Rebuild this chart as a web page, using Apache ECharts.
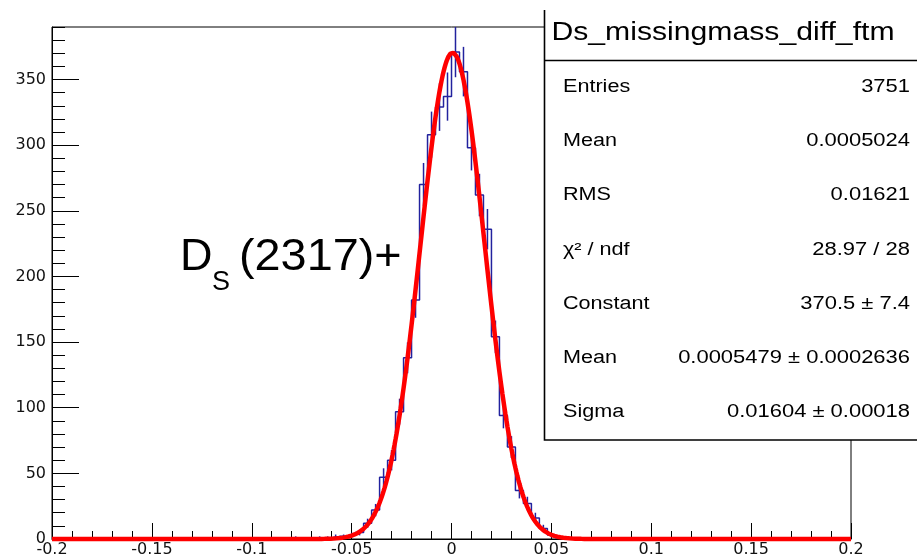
<!DOCTYPE html>
<html>
<head>
<meta charset="utf-8">
<script src="https://cdn.jsdelivr.net/npm/echarts@6/dist/echarts.min.js"></script>
<style>
  html, body { margin: 0; padding: 0; background: #ffffff; }
  #chart { width: 917px; height: 560px; }
</style>
</head>
<body>
<div id="chart"></div>
<script>
// Histogram of Ds_missingmass_diff_ftm: 100 bins over [-0.2, 0.2].
// Only the filled stretch of bins is listed; every other bin is empty.
const xRange = [-0.2, 0.2];
const binWidth = 0.004;
const firstBinLow = -0.080;
const binCounts = [
  1, 0, 0, 1, 1, 2, 2,
  3, 5, 12, 22, 47, 60, 97, 138, 182, 270, 308, 329, 337,
  371, 356, 298, 262, 236, 154, 94, 70, 37, 27, 16, 8, 3, 1, 1
];

// Gaussian fit parameters (as printed in the stats box)
const fitConstant = 370.5;
const fitMean = 0.0005479;
const fitSigma = 0.01604;

// Axis ticks
const xTickValues = [-0.2, -0.15, -0.1, -0.05, 0, 0.05, 0.1, 0.15, 0.2];
const yTickValues = [0, 50, 100, 150, 200, 250, 300, 350];
const yMax = 390;

// Stats box
const statsTitle = 'Ds_missingmass_diff_ftm';
const statsNames = ['Entries', 'Mean', 'RMS', 'χ² / ndf', 'Constant', 'Mean', 'Sigma'];
const statsValues = ['3751', '0.0005024', '0.01621', '28.97 / 28', '370.5 ± 7.4',
                     '0.0005479 ± 0.0002636', '0.01604 ± 0.00018'];

const histColor = '#22229e';
const fontFamily = '"Liberation Sans", Arial, sans-serif';
const axisFont = '"DejaVu Sans", "Liberation Sans", sans-serif';

// ---- build series data ----
const nBins = Math.round((xRange[1] - xRange[0]) / binWidth);
const firstIdx = Math.round((firstBinLow - xRange[0]) / binWidth);
const contents = new Array(nBins).fill(0);
binCounts.forEach((c, i) => { contents[firstIdx + i] = c; });

// step outline: one point per bin low edge, plus the closing edge
const outline = [];
for (let i = 0; i < nBins; i++) outline.push([xRange[0] + i * binWidth, contents[i]]);
outline.push([xRange[1], contents[nBins - 1]]);

// sqrt(N) error bars at bin centres
const errorBars = [];
for (let i = 0; i < nBins; i++) {
  const n = contents[i];
  if (n > 0) {
    const c = xRange[0] + (i + 0.5) * binWidth;
    errorBars.push([c, n - Math.sqrt(n), n + Math.sqrt(n)]);
  }
}

// fitted gaussian, drawn over the full axis range
const fitCurve = [];
const nPts = 800;
for (let k = 0; k <= nPts; k++) {
  const x = xRange[0] + k * (xRange[1] - xRange[0]) / nPts;
  const z = (x - fitMean) / fitSigma;
  fitCurve.push([x, fitConstant * Math.exp(-0.5 * z * z)]);
}

const xMinor = [];
for (let k = 0; k <= 40; k++) xMinor.push(+(xRange[0] + k * 0.01).toFixed(2));
const yMinor = [];
for (let v = 0; v <= yMax; v += 10) if (v % 50 !== 0) yMinor.push(v);

// ---- stats box graphics ----
const boxLeft = 544, boxBottom = 440, rowTop = 87, rowStep = 54.2;
const graphics = [
  { type: 'rect', z: 50, shape: { x: boxLeft, y: 10, width: 917 - boxLeft + 5, height: boxBottom - 10 },
    style: { fill: '#ffffff' } },
  { type: 'polyline', z: 51, shape: { points: [[boxLeft + 0.5, 10], [boxLeft + 0.5, boxBottom], [920, boxBottom]] },
    style: { stroke: '#000', lineWidth: 1.6, fill: null } },
  { type: 'line', z: 51, shape: { x1: boxLeft, y1: 60.5, x2: 920, y2: 60.5 },
    style: { stroke: '#000', lineWidth: 1.4 } },
  { type: 'text', z: 52, x: 723, y: 33, scaleX: 1.16,
    style: { text: statsTitle, font: '26px ' + fontFamily, fill: '#000', align: 'center', verticalAlign: 'middle' } }
];
statsNames.forEach((name, i) => {
  const y = rowTop + i * rowStep;
  graphics.push({ type: 'text', z: 52, x: 563, y: y, scaleX: 1.2,
    style: { text: name, font: '18px ' + fontFamily, fill: '#000', align: 'left', verticalAlign: 'middle' } });
  graphics.push({ type: 'text', z: 52, x: 910, y: y, scaleX: 1.22,
    style: { text: statsValues[i], font: '18px ' + fontFamily, fill: '#000', align: 'right', verticalAlign: 'middle' } });
});

// particle label D_S(2317)+
graphics.push(
  { type: 'text', z: 52, x: 180, y: 258,
    style: { text: 'D', font: '45px ' + fontFamily, fill: '#000', align: 'left', verticalAlign: 'middle' } },
  { type: 'text', z: 52, x: 212, y: 283,
    style: { text: 'S', font: '27px ' + fontFamily, fill: '#000', align: 'left', verticalAlign: 'middle' } },
  { type: 'text', z: 52, x: 239, y: 258, scaleX: 1.04,
    style: { text: '(2317)+', font: '45px ' + fontFamily, fill: '#000', align: 'left', verticalAlign: 'middle' } }
);

const chart = echarts.init(document.getElementById('chart'), null, { renderer: 'canvas' });
chart.setOption({
  animation: false,
  backgroundColor: '#ffffff',
  grid: { left: 52, right: 66, top: 27, bottom: 21, show: true, borderColor: '#000', borderWidth: 1,
          backgroundColor: 'transparent' },
  xAxis: [
    { type: 'value', min: xRange[0], max: xRange[1], interval: 0.05,
      axisLine: { show: true, onZero: false, lineStyle: { color: '#000', width: 1 } },
      axisTick: { show: true, inside: true, length: 16, customValues: xTickValues, lineStyle: { color: '#000', width: 1 } },
      axisLabel: { show: true, customValues: xTickValues, margin: 3, color: '#111', fontSize: 16, fontFamily: axisFont,
                   formatter: v => String(+v.toFixed(2)) },
      splitLine: { show: false } },
    { type: 'value', min: xRange[0], max: xRange[1], interval: 0.01, position: 'bottom',
      axisLine: { show: false, onZero: false },
      axisTick: { show: true, inside: true, length: 8, customValues: xMinor, lineStyle: { color: '#000', width: 1 } },
      axisLabel: { show: false }, splitLine: { show: false } }
  ],
  yAxis: [
    { type: 'value', min: 0, max: yMax, interval: 50, position: 'left',
      axisLine: { show: true, onZero: false, lineStyle: { color: '#000', width: 1 } },
      axisTick: { show: true, inside: true, length: 27, customValues: yTickValues, lineStyle: { color: '#000', width: 1 } },
      axisLabel: { show: true, customValues: yTickValues, margin: 6, color: '#111', fontSize: 16, fontFamily: axisFont },
      splitLine: { show: false } },
    { type: 'value', min: 0, max: yMax, interval: 10, position: 'left',
      axisLine: { show: false, onZero: false },
      axisTick: { show: true, inside: true, length: 13, customValues: yMinor, lineStyle: { color: '#000', width: 1 } },
      axisLabel: { show: false }, splitLine: { show: false } }
  ],
  series: [
    { name: 'histogram', type: 'line', data: outline, step: 'end', showSymbol: false, symbol: 'none',
      xAxisIndex: 0, yAxisIndex: 0,
      lineStyle: { color: histColor, width: 1.5 }, z: 3 },
    { name: 'errors', type: 'custom', data: errorBars, xAxisIndex: 0, yAxisIndex: 0,
      encode: { x: 0, y: [1, 2] }, z: 3,
      renderItem: (params, api) => {
        const p1 = api.coord([api.value(0), api.value(1)]);
        const p2 = api.coord([api.value(0), Math.min(api.value(2), yMax)]);
        return { type: 'line', shape: { x1: p1[0], y1: p1[1], x2: p2[0], y2: p2[1] },
                 style: { stroke: histColor, lineWidth: 1.5 } };
      } },
    { name: 'fit', type: 'line', data: fitCurve, showSymbol: false, symbol: 'none', clip: false,
      xAxisIndex: 0, yAxisIndex: 0,
      lineStyle: { color: '#ff0000', width: 4.5 }, z: 5 }
  ],
  graphic: graphics
});
</script>
</body>
</html>
